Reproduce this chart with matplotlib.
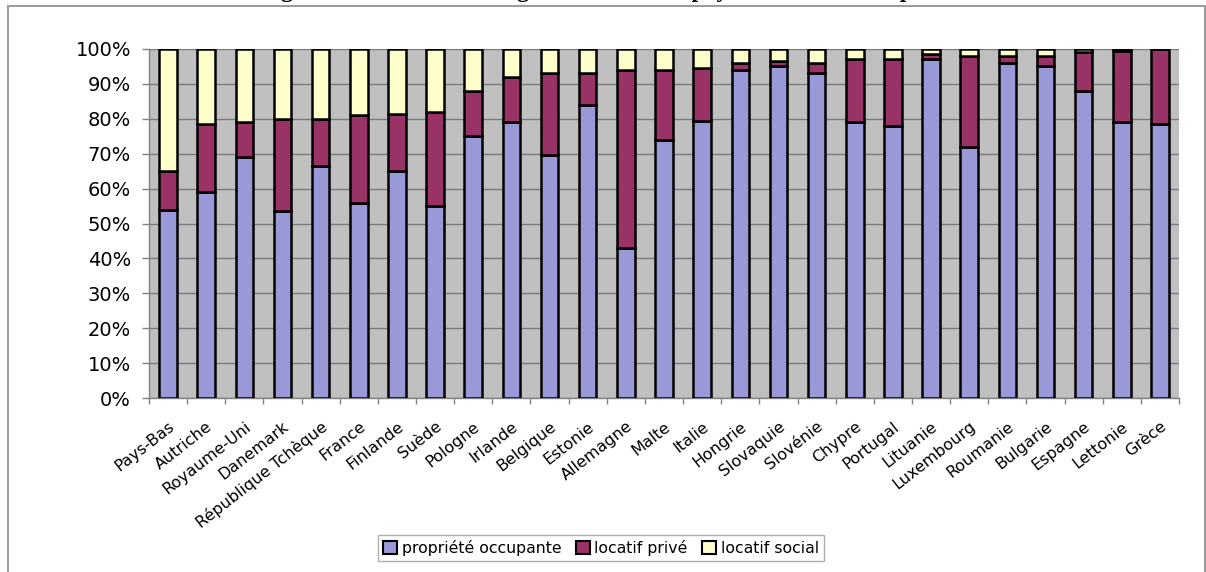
import matplotlib
matplotlib.use("Agg")
import matplotlib.pyplot as plt
from matplotlib.patches import Rectangle, Patch
from matplotlib.ticker import FixedLocator, PercentFormatter
import numpy as np

# Housing tenure shares by EU country (%)
countries = ["Pays-Bas", "Autriche", "Royaume-Uni", "Danemark", "République Tchèque",
             "France", "Finlande", "Suède", "Pologne", "Irlande", "Belgique", "Estonie",
             "Allemagne", "Malte", "Italie", "Hongrie", "Slovaquie", "Slovénie", "Chypre",
             "Portugal", "Lituanie", "Luxembourg", "Roumanie", "Bulgarie", "Espagne",
             "Lettonie", "Grèce"]
proprietaires = [54, 59, 69, 53.5, 66.5, 56, 65, 55, 75, 79, 69.5, 84, 43, 74, 79.5,
                 94, 95, 93, 79, 78, 97, 72, 96, 95, 88, 79, 78.5]
locatif_prive = [11, 19.5, 10, 26.5, 13.5, 25, 16.5, 27, 13, 13, 23.5, 9, 51, 20, 15,
                 2, 1.5, 3, 18, 19, 1.5, 26, 2, 3, 11, 20.5, 21.5]
locatif_social = [100 - p - q for p, q in zip(proprietaires, locatif_prive)]

series_labels = ["propriété occupante", "locatif privé", "locatif social"]
series_colors = ["#9999d8", "#993366", "#ffffcc"]
y_ticks = list(range(0, 101, 10))

W, H = 1206, 572
fig = plt.figure(figsize=(W / 100, H / 100), dpi=100)
fig.patch.set_facecolor("white")

# outer chart frame
fig.patches.append(Rectangle((8 / W, -0.05), (1205 - 8) / W, 1 - 6 / H + 0.05,
                             transform=fig.transFigure, fill=False,
                             edgecolor="#9a9a9a", linewidth=1.4))

# heading sitting above the top edge (only its descenders reach the page)
fig.text(615 / W, 1 + 3.0 / H, "Figure 4 : Le statut des logements dans les pays de l'Union européenne",
         ha="center", va="baseline", fontsize=17, fontweight="bold",
         family="Liberation Serif", color="black")

ax = fig.add_axes([149 / W, 1 - 398 / H, (1179 - 149) / W, (398 - 49) / H])
ax.set_facecolor("#c0c0c0")

x = np.arange(len(countries))
bw = 0.46
bottom = np.zeros(len(countries))
for vals, lab, col in zip([proprietaires, locatif_prive, locatif_social], series_labels, series_colors):
    vals = np.array(vals, dtype=float)
    ax.bar(x, vals, bw, bottom=bottom, color=col, edgecolor="black",
           linewidth=1.8, label=lab, zorder=3)
    bottom += vals

ax.set_xlim(-0.5, len(countries) - 0.5)
ax.set_ylim(0, 100)
ax.yaxis.set_major_locator(FixedLocator(y_ticks))
ax.yaxis.set_major_formatter(PercentFormatter(decimals=0))
ax.grid(axis="y", color="#7a7a7a", linewidth=1.0, zorder=1)
ax.set_axisbelow(True)

ax.set_xticks(x)
ax.set_xticklabels(countries, rotation=38, ha="right", rotation_mode="anchor",
                   fontsize=11.5, family="DejaVu Sans")
ax.set_xticks(np.arange(len(countries) + 1) - 0.5, minor=True)
ax.tick_params(axis="x", which="major", length=0, pad=15)
ax.tick_params(axis="x", which="minor", length=4, color="#808080", width=1)
ax.tick_params(axis="y", length=5, color="#808080", width=1, pad=8,
               labelsize=14, labelcolor="black")
for lbl in ax.get_yticklabels():
    lbl.set_family("DejaVu Sans")

for s in ["top", "right"]:
    ax.spines[s].set_visible(False)
for s in ["left", "bottom"]:
    ax.spines[s].set_color("#808080")
    ax.spines[s].set_linewidth(1.0)

handles = [Patch(facecolor=c, edgecolor="black", linewidth=1.5) for c in series_colors]
leg = fig.legend(handles, series_labels, loc="center", bbox_to_anchor=(601 / W, 1 - 548 / H),
                 ncol=3, frameon=True, fancybox=False, edgecolor="#9a9a9a",
                 handlelength=0.9, handleheight=0.9, handletextpad=0.3,
                 columnspacing=0.9, borderpad=0.35,
                 prop={"family": "DejaVu Sans", "size": 11.3})
leg.get_frame().set_linewidth(1.0)

fig.savefig("out.png", dpi=100, facecolor="white")
